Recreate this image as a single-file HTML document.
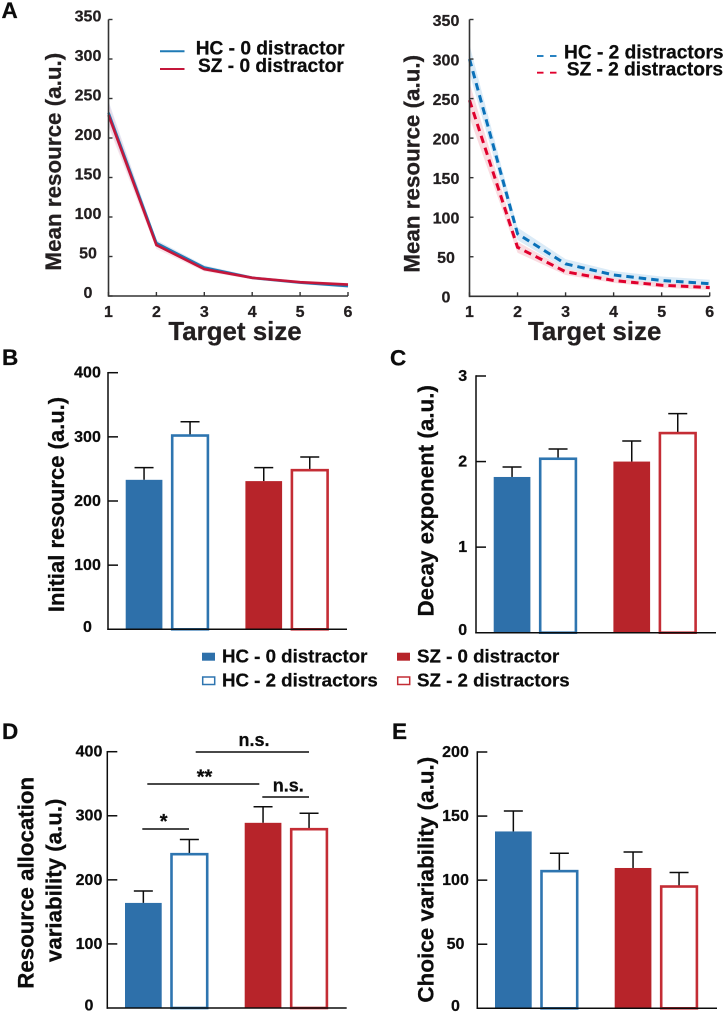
<!DOCTYPE html>
<html lang="en">
<head>
<meta charset="utf-8">
<title>Resource model figure</title>
<style>
html,body{margin:0;padding:0;background:#fff;}
svg{display:block;}
text{font-family:"Liberation Sans",Arial,sans-serif;font-weight:bold;stroke-width:.25px;}
.dk{fill:#231f20;stroke:#231f20;}
.bk{fill:#0c0c0c;stroke:#0c0c0c;}
</style>
</head>
<body>
<svg id="fig" xmlns="http://www.w3.org/2000/svg" width="724" height="1012" viewBox="0 0 724 1012">
  <g font-size="22.5" class="bk">
    <text x="1.5" y="18">A</text>
    <text x="2" y="365">B</text>
    <text x="390" y="365.7">C</text>
    <text x="2" y="739">D</text>
    <text x="392" y="739">E</text>
  </g>

  <g id="a1"></g>
  <g id="a2"></g>
  <g id="b"></g>
  <g id="c"></g>
  <g id="d"></g>
  <g id="e"></g>

  <g>
    <line x1="160" x2="184.5" y1="51.3" y2="51.3" stroke="#1f7ab5" stroke-width="2"/>
    <line x1="160" x2="184.5" y1="69" y2="69" stroke="#c4163a" stroke-width="2"/>
    <text class="bk" x="195.7" y="54.5" font-size="19.15">HC - 0 distractor</text>
    <text class="bk" x="198" y="72" font-size="19.15">SZ - 0 distractor</text>
  </g>
  <g>
    <line x1="537" x2="556.5" y1="56" y2="56" stroke="#0a71b9" stroke-width="1.8" stroke-dasharray="6.5 6.5"/>
    <line x1="537" x2="556.5" y1="72.7" y2="72.7" stroke="#e0002d" stroke-width="1.8" stroke-dasharray="6.5 6.5"/>
    <text class="bk" x="564" y="58.5" font-size="19.15">HC - 2 distractors</text>
    <text class="bk" x="566.7" y="75.3" font-size="19.15">SZ - 2 distractors</text>
  </g>

  <g>
    <rect x="202" y="652.7" width="13" height="8" fill="#2e70aa"/>
    <rect x="202.7" y="677" width="12" height="7.5" fill="#fff" stroke="#2e75b0" stroke-width="1.5"/>
    <rect x="397" y="652.7" width="13" height="8" fill="#b7242a"/>
    <rect x="397.7" y="677" width="12" height="7.5" fill="#fff" stroke="#c42d35" stroke-width="1.5"/>
    <text class="bk" x="222" y="662.7" font-size="18.7">HC - 0 distractor</text>
    <text class="bk" x="222" y="686.7" font-size="18.7">HC - 2 distractors</text>
    <text class="bk" x="417" y="662.7" font-size="18.7">SZ - 0 distractor</text>
    <text class="bk" x="417" y="686.7" font-size="18.7">SZ - 2 distractors</text>
  </g>

  <g>
    <text class="dk" x="235" y="340" font-size="25.9" text-anchor="middle">Target size</text>
    <text class="dk" x="594.7" y="340" font-size="25.9" text-anchor="middle">Target size</text>
    <text class="dk" font-size="22.4" text-anchor="middle" transform="translate(61 161.7) rotate(-90)">Mean resource (a.u.)</text>
    <text class="dk" font-size="22.4" text-anchor="middle" transform="translate(419.3 163.8) rotate(-90)">Mean resource (a.u.)</text>
    <text class="bk" font-size="22" text-anchor="middle" transform="translate(64 504.5) rotate(-90)">Initial resource (a.u.)</text>
    <text class="bk" font-size="22.4" text-anchor="middle" transform="translate(433.7 500.8) rotate(-90)">Decay exponent (a.u.)</text>
    <text class="bk" font-size="22.3" text-anchor="middle" transform="translate(33.3 882.8) rotate(-90)">Resource allocation</text>
    <text class="bk" font-size="22.3" text-anchor="middle" transform="translate(61.7 880.3) rotate(-90)">variability (a.u.)</text>
    <text class="bk" font-size="22.47" text-anchor="middle" transform="translate(433.7 879.7) rotate(-90)">Choice variability (a.u.)</text>
  </g>

  <g>
    <line x1="195.7" x2="309" y1="752" y2="752" stroke="#0c0c0c" stroke-width="1.5"/>
    <line x1="147.3" x2="259.3" y1="784" y2="784" stroke="#0c0c0c" stroke-width="1.5"/>
    <line x1="262.3" x2="309" y1="797" y2="797" stroke="#0c0c0c" stroke-width="1.5"/>
    <line x1="142.3" x2="189" y1="829" y2="829" stroke="#0c0c0c" stroke-width="1.5"/>
    <text class="bk" x="254" y="746" font-size="18" text-anchor="middle">n.s.</text>
    <text class="bk" x="204.5" y="783.6" font-size="20" text-anchor="middle">**</text>
    <text class="bk" x="288.3" y="791.7" font-size="18" text-anchor="middle">n.s.</text>
    <text class="bk" x="163.7" y="828" font-size="20" text-anchor="middle">*</text>
  </g>
</svg>

<script>
// ---------- chart data ----------
var targetSizes = [1, 2, 3, 4, 5, 6];
var lineTicks = [0, 50, 100, 150, 200, 250, 300, 350];

var hc0Mean = [232, 67, 36, 23, 17, 12.5];
var hc0Err  = [15, 4, 3, 2, 2, 2];
var sz0Mean = [229, 64.5, 34, 23, 17.5, 14.5];
var sz0Err  = [15, 5, 3, 2, 2, 2];

var hc2Mean = [300, 79, 41, 27, 20, 16];
var hc2Err  = [18, 8, 6, 5, 5, 5];
var sz2Mean = [248, 62, 31, 20, 14, 11];
var sz2Err  = [22, 7, 4, 3, 3, 3];

var barGroups = ['HC - 0 distractor', 'HC - 2 distractors', 'SZ - 0 distractor', 'SZ - 2 distractors'];

var initialTicks = [0, 100, 200, 300, 400];
var initialValues = [233, 303, 231, 249];
var initialErrTops = [252, 323.6, 252, 268.6];

var decayTicks = [0, 1, 2, 3];
var decayValues = [1.82, 2.04, 2.0, 2.34];
var decayErrTops = [1.937, 2.147, 2.24, 2.56];

var allocTicks = [0, 100, 200, 300, 400];
var allocValues = [164, 241, 289, 280];
var allocErrTops = [182.6, 263, 314, 304];

var choiceTicks = [0, 50, 100, 150, 200];
var choiceValues = [138, 107.5, 109.5, 95.5];
var choiceErrTops = [154, 121, 122, 106];

// ---------- helpers ----------
var NS = 'http://www.w3.org/2000/svg';
function mk(parent, tag, attrs, name, txt) {
  var el = document.createElementNS(NS, tag);
  for (var k in attrs) el.setAttribute(k, attrs[k]);
  
  
  if (txt !== undefined) el.textContent = txt;
  parent.appendChild(el);
  return el;
}
function linear(d0, d1, r0, r1) {
  return function (v) { return r0 + (v - d0) * (r1 - r0) / (d1 - d0); };
}

function lineChart(id, cfg) {
  var g = document.getElementById(id);
  var x = linear(targetSizes[0], targetSizes[targetSizes.length - 1], cfg.x0, cfg.x1);
  var y = linear(0, lineTicks[lineTicks.length - 1], cfg.y0, cfg.y1);

  cfg.series.forEach(function (s) {
    var up = [], down = [];
    targetSizes.forEach(function (t, i) {
      up.push(x(t).toFixed(2) + ',' + y(s.mean[i] + s.err[i]).toFixed(2));
      down.unshift(x(t).toFixed(2) + ',' + y(s.mean[i] - s.err[i]).toFixed(2));
    });
    mk(g, 'polygon', { points: up.concat(down).join(' '), fill: s.band, 'fill-opacity': s.bandOpacity }, s.name + '-error-band');
  });
  cfg.series.forEach(function (s) {
    var pts = [];
    targetSizes.forEach(function (t, i) {
      pts.push(x(t).toFixed(2) + ',' + y(s.mean[i]).toFixed(2));
    });
    var a = { points: pts.join(' '), fill: 'none', stroke: s.color, 'stroke-width': s.width };
    if (s.dash) a['stroke-dasharray'] = s.dash;
    mk(g, 'polyline', a, s.name + '-line');
  });

  mk(g, 'line', { x1: cfg.x0, x2: cfg.x0, y1: cfg.y1, y2: cfg.y0 + 0.8, stroke: '#333', 'stroke-width': 1.6 }, 'y-axis-line');
  mk(g, 'line', { x1: cfg.x0, x2: cfg.x1, y1: cfg.y0, y2: cfg.y0, stroke: '#333', 'stroke-width': 1.6 }, 'x-axis-line');
  lineTicks.forEach(function (t) {
    mk(g, 'line', { x1: cfg.x0, x2: cfg.x0 + 4, y1: y(t), y2: y(t), stroke: '#333', 'stroke-width': 1.4 }, 'y-tick');
    mk(g, 'text', { x: cfg.yLabelX, y: y(t) + cfg.yLabelDy, 'font-size': 16, 'text-anchor': 'middle', 'class': 'dk' }, 'y-tick-label', String(t));
  });
  targetSizes.forEach(function (t) {
    mk(g, 'line', { x1: x(t), x2: x(t), y1: cfg.y0, y2: cfg.y0 - 4, stroke: '#333', 'stroke-width': 1.4 }, 'x-tick');
    mk(g, 'text', { x: x(t), y: 317, 'font-size': 16, 'text-anchor': 'middle', 'class': 'dk' }, 'x-tick-label', String(t));
  });
}

function barChart(id, cfg) {
  var g = document.getElementById(id);
  var top = cfg.ticks[cfg.ticks.length - 1];
  var y = linear(0, top, cfg.y0, cfg.y1);
  var stepX = 45.2, groupGap = 29.3, inset = 17.7;
  cfg.values.forEach(function (v, i) {
    var left = cfg.x0 + inset + i * stepX + (i >= 2 ? groupGap : 0);
    var isFilled = i % 2 === 0;
    var color = i < 2 ? (isFilled ? '#2e70aa' : '#2e75b0') : (isFilled ? '#b7242a' : '#c42d35');
    var w = isFilled ? 36.7 : 38.3;
    var cx = left + (isFilled ? 18.35 : 19.15);
    var barName = barGroups[i].toLowerCase().replace(/ - /g, '-').replace(/ /g, '-');
    mk(g, 'line', { x1: cx, x2: cx, y1: y(v), y2: y(cfg.errTops[i]), stroke: '#0c0c0c', 'stroke-width': 1.5 }, 'error-bar-' + barName);
    mk(g, 'line', { x1: cx - 9.5, x2: cx + 9.5, y1: y(cfg.errTops[i]), y2: y(cfg.errTops[i]), stroke: '#0c0c0c', 'stroke-width': 1.5 }, 'error-cap-' + barName);
    if (isFilled) {
      mk(g, 'rect', { x: left, y: y(v), width: w, height: cfg.y0 - y(v), fill: color }, 'bar-' + barName);
    } else {
      mk(g, 'rect', { x: left + 1.3, y: y(v) + 0.6, width: w - 2.6, height: cfg.y0 - y(v) - 0.6, fill: '#fff', stroke: color, 'stroke-width': 2.6 }, 'bar-' + barName);
    }
  });
  mk(g, 'line', { x1: cfg.x0, x2: cfg.x0, y1: cfg.y1 - 0.7, y2: cfg.y0 + 0.7, stroke: '#0c0c0c', 'stroke-width': 1.5 }, 'y-axis-line');
  mk(g, 'line', { x1: cfg.x0 - 0.7, x2: cfg.x1, y1: cfg.y0, y2: cfg.y0, stroke: '#0c0c0c', 'stroke-width': 1.5 }, 'x-axis-line');
  cfg.ticks.forEach(function (t) {
    if (t !== 0) mk(g, 'line', { x1: cfg.x0, x2: cfg.x0 + 10, y1: y(t), y2: y(t), stroke: '#0c0c0c', 'stroke-width': 1.5 }, 'y-tick');
    mk(g, 'text', { x: cfg.labelX, y: y(t) + (t === 0 ? 2.5 : 4.9), 'font-size': 16, 'text-anchor': 'middle', 'class': 'bk' }, 'y-tick-label', String(t));
  });
}

// ---------- draw ----------
lineChart('a1', {
  x0: 108.5, x1: 348, y0: 296, y1: 19.5, yLabelX: 88, yLabelDy: 2,
  series: [
    { name: 'hc-0-distractor', mean: hc0Mean, err: hc0Err, color: '#1f7ab5', width: 2.6, band: '#c3cfe8', bandOpacity: 0.45 },
    { name: 'sz-0-distractor', mean: sz0Mean, err: sz0Err, color: '#c4163a', width: 2.6, band: '#efc8d8', bandOpacity: 0.45 }
  ]
});
lineChart('a2', {
  x0: 469.5, x1: 709.7, y0: 296.3, y1: 19.5, yLabelX: 446, yLabelDy: 6.3,
  series: [
    { name: 'hc-2-distractors', mean: hc2Mean, err: hc2Err, color: '#0a71b9', width: 3, dash: '7.5 5', band: '#cfe4f4', bandOpacity: 0.75 },
    { name: 'sz-2-distractors', mean: sz2Mean, err: sz2Err, color: '#e0002d', width: 3, dash: '7.5 5', band: '#f9d3d9', bandOpacity: 0.8 }
  ]
});
barChart('b', { x0: 108, x1: 347, y0: 629.3, y1: 372.7, labelX: 87.5, ticks: initialTicks, values: initialValues, errTops: initialErrTops });
barChart('c', { x0: 476, x1: 716, y0: 632.7, y1: 376, labelX: 462.7, ticks: decayTicks, values: decayValues, errTops: decayErrTops });
barChart('d', { x0: 107.3, x1: 346.7, y0: 1008, y1: 751.7, labelX: 89, ticks: allocTicks, values: allocValues, errTops: allocErrTops });
barChart('e', { x0: 477.3, x1: 717, y0: 1008.3, y1: 752, labelX: 455.5, ticks: choiceTicks, values: choiceValues, errTops: choiceErrTops });
</script>
</body>
</html>
